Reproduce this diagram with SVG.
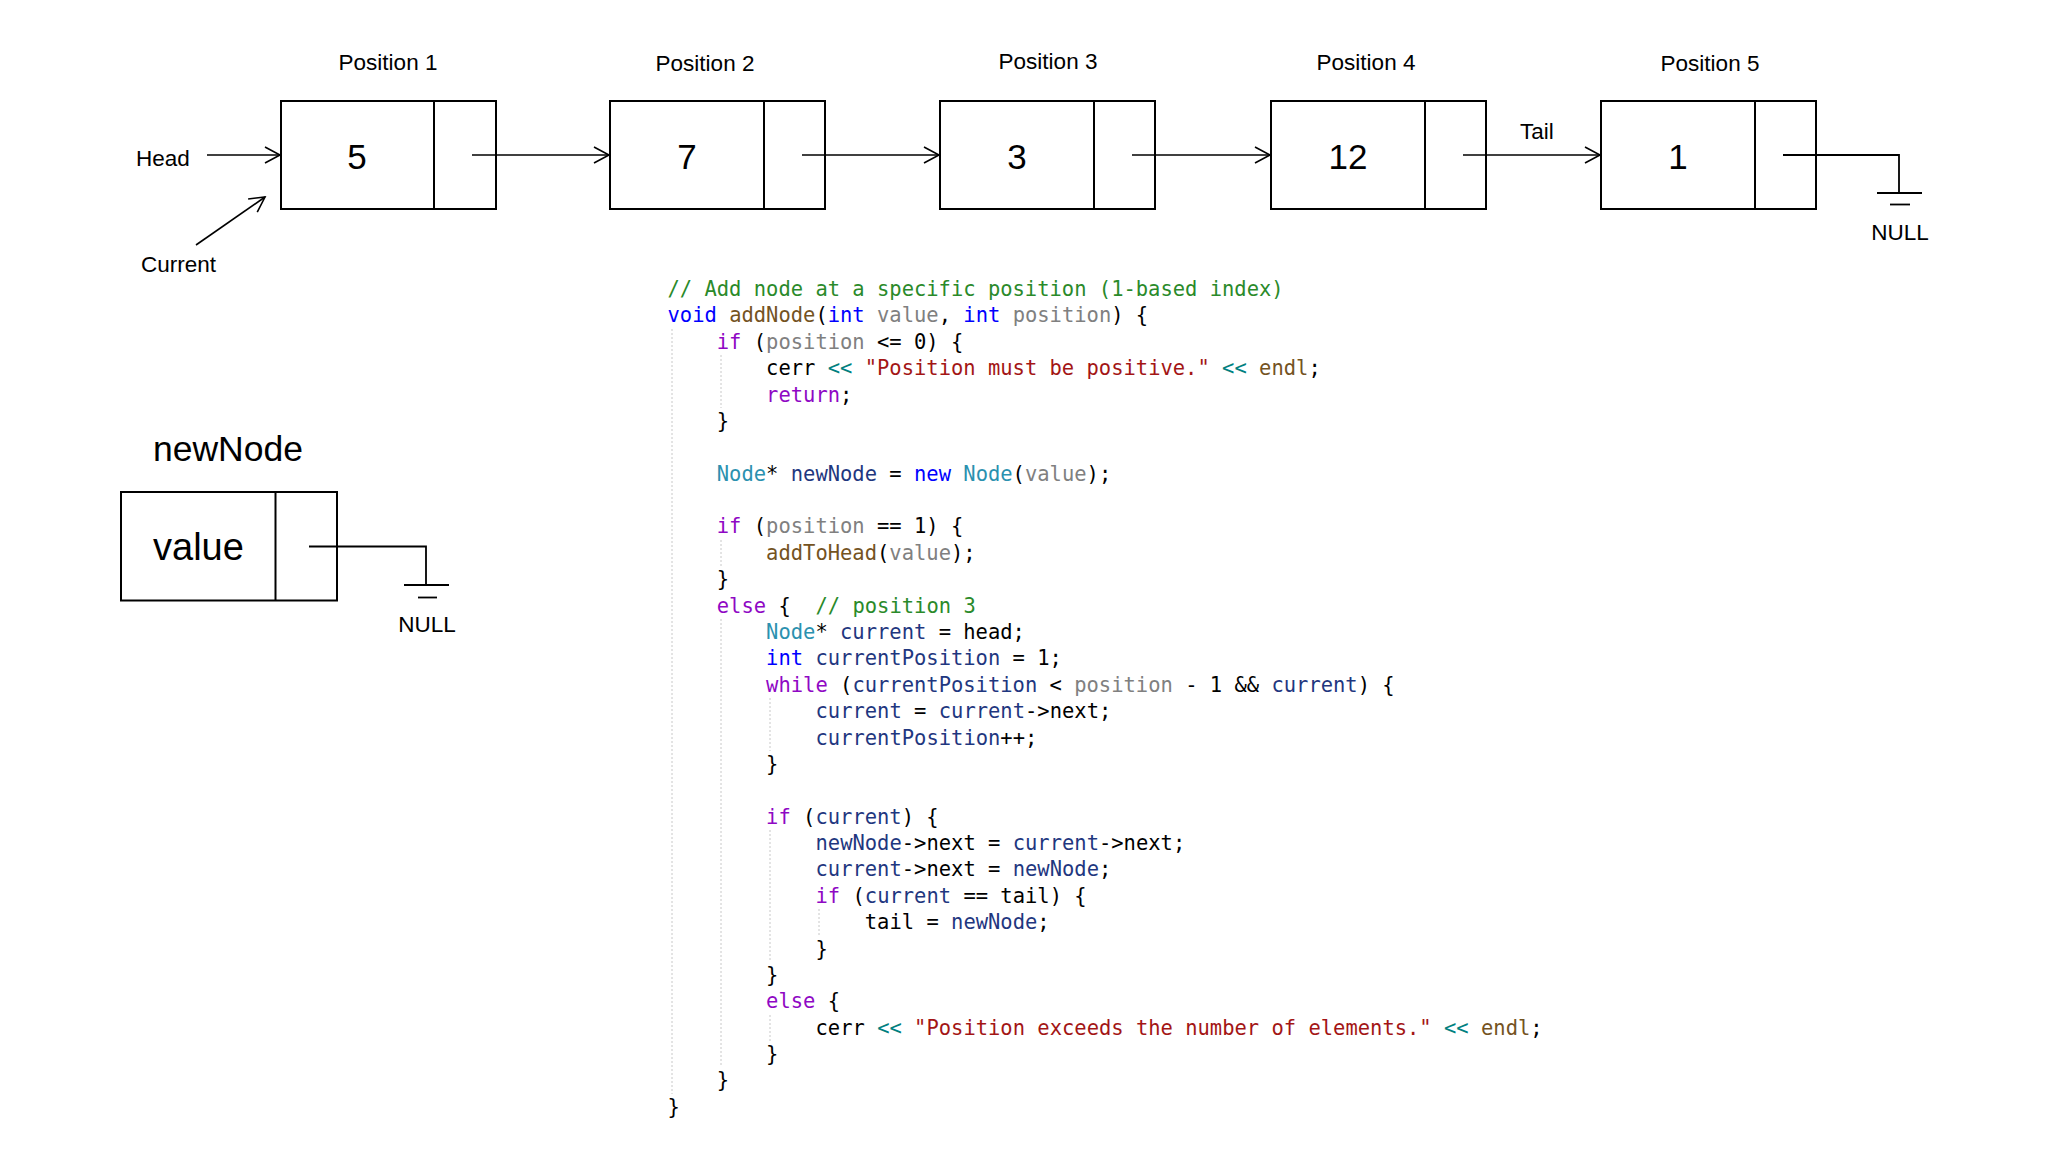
<svg xmlns="http://www.w3.org/2000/svg" width="2048" height="1152" viewBox="0 0 2048 1152">
<style>
.box{fill:#fff;stroke:#000;stroke-width:2}
.div{stroke:#000;stroke-width:2}
.lbl{font-family:"Liberation Sans",Arial,sans-serif;font-size:22.5px;fill:#000}
.num{font-family:"Liberation Sans",Arial,sans-serif;font-size:35px;fill:#000;text-anchor:middle}
.big{font-family:"Liberation Sans",Arial,sans-serif;fill:#000}
.con{fill:none;stroke:#000;stroke-width:1.6}
.gnd{fill:none;stroke:#000;stroke-width:1.8}
.code{font-family:"DejaVu Sans Mono","Liberation Mono",monospace;font-size:20.48px;fill:#000;white-space:pre}
.cm{fill:#2a8a2a}.kw{fill:#0000ff}.ctl{fill:#8f08c4}.fn{fill:#74531f}.pm{fill:#808080}
.ty{fill:#2b91af}.lv{fill:#1f377f}.op{fill:#008080}.st{fill:#a31515}
.guide{stroke:#c8c8c8;stroke-width:1;stroke-dasharray:2 2}
</style>
<defs>
<marker id="arr" markerUnits="userSpaceOnUse" markerWidth="20" markerHeight="20" viewBox="-16 -10 20 20" refX="0" refY="0" orient="auto">
<path d="M-15,-8 L0,0 L-15,8" fill="none" stroke="#000" stroke-width="1.6"/>
</marker>
</defs>
<rect width="2048" height="1152" fill="#fff"/>

<g id="labels">
<text class="lbl" x="388" y="70" text-anchor="middle">Position 1</text>
<text class="lbl" x="705" y="71" text-anchor="middle">Position 2</text>
<text class="lbl" x="1048" y="69" text-anchor="middle">Position 3</text>
<text class="lbl" x="1366" y="70" text-anchor="middle">Position 4</text>
<text class="lbl" x="1710" y="71" text-anchor="middle">Position 5</text>
<text class="lbl" x="136" y="166">Head</text>
<text class="lbl" x="141" y="272">Current</text>
<text class="lbl" x="1520" y="139" font-size="22">Tail</text>
</g>

<g id="node1"><rect class="box" x="281" y="101" width="215" height="108"/><line class="div" x1="434" y1="101" x2="434" y2="209"/><text class="num" x="357" y="168.5">5</text></g>
<g id="node2"><rect class="box" x="610" y="101" width="215" height="108"/><line class="div" x1="764" y1="101" x2="764" y2="209"/><text class="num" x="687" y="168.5">7</text></g>
<g id="node3"><rect class="box" x="940" y="101" width="215" height="108"/><line class="div" x1="1094" y1="101" x2="1094" y2="209"/><text class="num" x="1017" y="168.5">3</text></g>
<g id="node4"><rect class="box" x="1271" y="101" width="215" height="108"/><line class="div" x1="1425" y1="101" x2="1425" y2="209"/><text class="num" x="1348" y="168.5">12</text></g>
<g id="node5"><rect class="box" x="1601" y="101" width="215" height="108"/><line class="div" x1="1755" y1="101" x2="1755" y2="209"/><text class="num" x="1678" y="168.5">1</text></g>

<g id="null-top">
<line class="gnd" x1="1877" y1="193" x2="1922" y2="193"/>
<line class="gnd" x1="1890" y1="204.5" x2="1910" y2="204.5"/>
<text class="lbl" x="1900" y="240" font-size="21.5" text-anchor="middle">NULL</text>
</g>

<g id="newNode">
<text class="big" x="153" y="461" font-size="35.5">newNode</text>
<rect class="box" x="121" y="492" width="216" height="108.5"/>
<line class="div" x1="275.5" y1="492" x2="275.5" y2="600.5"/>
<text class="big" x="153" y="560" font-size="38">value</text>
</g>

<g id="null-new">
<line class="gnd" x1="404" y1="585" x2="449" y2="585"/>
<line class="gnd" x1="418" y1="597.5" x2="437" y2="597.5"/>
<text class="lbl" x="427" y="631.5" font-size="21.5" text-anchor="middle">NULL</text>
</g>

<g id="connectors">
<line class="con" x1="207" y1="155" x2="280" y2="155" marker-end="url(#arr)"/>
<line class="con" x1="196" y1="245" x2="265" y2="197" marker-end="url(#arr)"/>
<line class="con" x1="472" y1="155" x2="609" y2="155" marker-end="url(#arr)"/>
<line class="con" x1="802" y1="155" x2="939" y2="155" marker-end="url(#arr)"/>
<line class="con" x1="1132" y1="155" x2="1270" y2="155" marker-end="url(#arr)"/>
<line class="con" x1="1463" y1="155" x2="1600" y2="155" marker-end="url(#arr)"/>
<polyline class="gnd" points="1783,155 1899,155 1899,193"/>
<polyline class="gnd" points="309,546.5 426,546.5 426,585"/>
</g>

<g id="guides">
<line class="guide" x1="672" y1="329" x2="672" y2="1094"/>
<line class="guide" x1="721" y1="355" x2="721" y2="408"/>
<line class="guide" x1="721" y1="540" x2="721" y2="566"/>
<line class="guide" x1="721" y1="619" x2="721" y2="1067"/>
<line class="guide" x1="770" y1="698" x2="770" y2="751"/>
<line class="guide" x1="770" y1="830" x2="770" y2="962"/>
<line class="guide" x1="770" y1="1015" x2="770" y2="1041"/>
<line class="guide" x1="819" y1="909" x2="819" y2="936"/>
</g>

<g id="code" class="code" xml:space="preserve">
<text x="667.5" y="296"><tspan class="cm">// Add node at a specific position (1-based index)</tspan></text>
<text x="667.5" y="322.4"><tspan class="kw">void</tspan> <tspan class="fn">addNode</tspan>(<tspan class="kw">int</tspan> <tspan class="pm">value</tspan>, <tspan class="kw">int</tspan> <tspan class="pm">position</tspan>) {</text>
<text x="716.8" y="348.8"><tspan class="ctl">if</tspan> (<tspan class="pm">position</tspan> &lt;= 0) {</text>
<text x="766.1" y="375.1">cerr <tspan class="op">&lt;&lt;</tspan> <tspan class="st">"Position must be positive."</tspan> <tspan class="op">&lt;&lt;</tspan> <tspan class="fn">endl</tspan>;</text>
<text x="766.1" y="401.5"><tspan class="ctl">return</tspan>;</text>
<text x="716.8" y="427.9">}</text>
<text x="716.8" y="480.7"><tspan class="ty">Node</tspan>* <tspan class="lv">newNode</tspan> = <tspan class="kw">new</tspan> <tspan class="ty">Node</tspan>(<tspan class="pm">value</tspan>);</text>
<text x="716.8" y="533.4"><tspan class="ctl">if</tspan> (<tspan class="pm">position</tspan> == 1) {</text>
<text x="766.1" y="559.8"><tspan class="fn">addToHead</tspan>(<tspan class="pm">value</tspan>);</text>
<text x="716.8" y="586.2">}</text>
<text x="716.8" y="612.6"><tspan class="ctl">else</tspan> {<tspan class="cm" x="815.5">// position 3</tspan></text>
<text x="766.1" y="638.9"><tspan class="ty">Node</tspan>* <tspan class="lv">current</tspan> = head;</text>
<text x="766.1" y="665.3"><tspan class="kw">int</tspan> <tspan class="lv">currentPosition</tspan> = 1;</text>
<text x="766.1" y="691.7"><tspan class="ctl">while</tspan> (<tspan class="lv">currentPosition</tspan> &lt; <tspan class="pm">position</tspan> - 1 &amp;&amp; <tspan class="lv">current</tspan>) {</text>
<text x="815.5" y="718.1"><tspan class="lv">current</tspan> = <tspan class="lv">current</tspan>-&gt;next;</text>
<text x="815.5" y="744.5"><tspan class="lv">currentPosition</tspan>++;</text>
<text x="766.1" y="770.8">}</text>
<text x="766.1" y="823.6"><tspan class="ctl">if</tspan> (<tspan class="lv">current</tspan>) {</text>
<text x="815.5" y="850"><tspan class="lv">newNode</tspan>-&gt;next = <tspan class="lv">current</tspan>-&gt;next;</text>
<text x="815.5" y="876.4"><tspan class="lv">current</tspan>-&gt;next = <tspan class="lv">newNode</tspan>;</text>
<text x="815.5" y="902.7"><tspan class="ctl">if</tspan> (<tspan class="lv">current</tspan> == tail) {</text>
<text x="864.8" y="929.1">tail = <tspan class="lv">newNode</tspan>;</text>
<text x="815.5" y="955.5">}</text>
<text x="766.1" y="981.9">}</text>
<text x="766.1" y="1008.3"><tspan class="ctl">else</tspan> {</text>
<text x="815.5" y="1034.6">cerr <tspan class="op">&lt;&lt;</tspan> <tspan class="st">"Position exceeds the number of elements."</tspan> <tspan class="op">&lt;&lt;</tspan> <tspan class="fn">endl</tspan>;</text>
<text x="766.1" y="1061">}</text>
<text x="716.8" y="1087.4">}</text>
<text x="667.5" y="1113.8">}</text>
</g>
</svg>
